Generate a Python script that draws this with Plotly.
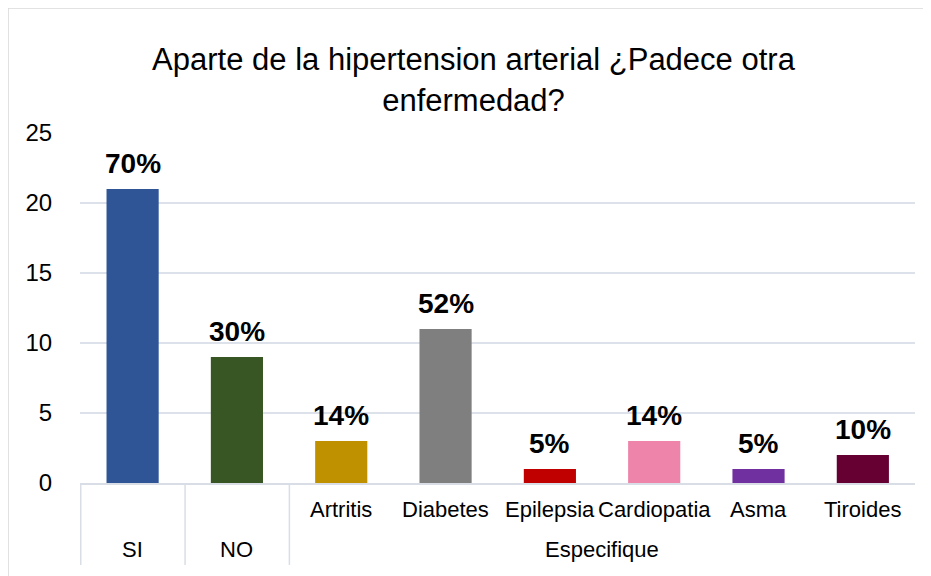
import plotly.graph_objects as go

grupos = ["SI", "NO", "Especifique", "Especifique", "Especifique", "Especifique", "Especifique", "Especifique"]
categorias = ["SI", "NO", "Artritis", "Diabetes", "Epilepsia", "Cardiopatia", "Asma", "Tiroides"]
valores = [21, 9, 3, 11, 1, 3, 1, 2]
etiquetas = ["70%", "30%", "14%", "52%", "5%", "14%", "5%", "10%"]
colores = ["#2F5597", "#375623", "#BF9000", "#7F7F7F", "#C00000", "#EE84AA", "#7030A0", "#660033"]

FUENTE = "Liberation Sans, Arial, sans-serif"
LINEA = "#D9DDE5"

fig = go.Figure(
    go.Bar(
        x=categorias,
        y=valores,
        marker=dict(color=colores, line=dict(width=0)),
        hovertext=etiquetas,
    )
)

# etiquetas de porcentaje sobre cada barra
for cat, val, txt in zip(categorias, valores, etiquetas):
    fig.add_annotation(
        x=cat, y=val, text=f"<b>{txt}</b>", xref="x", yref="y",
        showarrow=False, yanchor="bottom", yshift=8,
        font=dict(size=28, color="#000000", family=FUENTE),
    )

# etiquetas del eje x en dos niveles (categoria arriba, grupo abajo)
anotaciones = []
for cat, grp in zip(categorias, grupos):
    if cat != grp:
        anotaciones.append(dict(x=cat, y=-0.077, text=cat))
vistos = []
for grp in grupos:
    if grp not in vistos:
        vistos.append(grp)
for grp in vistos:
    idx = [i for i, g in enumerate(grupos) if g == grp]
    anotaciones.append(dict(x=sum(idx) / len(idx), y=-0.191, text=grp))
for a in anotaciones:
    fig.add_annotation(
        x=a["x"], y=a["y"], text=a["text"], xref="x", yref="paper",
        showarrow=False, yanchor="middle", xanchor="center",
        font=dict(size=22, color="#000000", family=FUENTE),
    )

# divisores entre grupos
limites = [-0.5] + [i - 0.5 for i in range(1, len(grupos)) if grupos[i] != grupos[i - 1]]
for xl in limites:
    fig.add_shape(
        type="line", xref="x", yref="paper", x0=xl + 0.003, x1=xl + 0.003, y0=0, y1=-0.234,
        line=dict(color=LINEA, width=1.5),
    )

fig.update_layout(
    width=931,
    height=576,
    paper_bgcolor="white",
    plot_bgcolor="white",
    font=dict(family=FUENTE, color="#000000"),
    title=dict(
        text="Aparte de la hipertension arterial ¿Padece otra<br>enfermedad?",
        x=0.5,
        xanchor="center",
        y=0.892,
        yanchor="middle",
        font=dict(size=31, color="#000000"),
    ),
    bargap=0.5,
    showlegend=False,
    margin=dict(l=72, r=24, t=125, b=101),
)
fig.update_xaxes(
    type="category",
    showticklabels=False,
    showline=True,
    linecolor=LINEA,
    linewidth=1.5,
    showgrid=False,
)
fig.update_yaxes(
    range=[0, 25],
    dtick=5,
    gridcolor="#DDE1EA",
    gridwidth=1.5,
    zeroline=False,
    showline=False,
    tickfont=dict(size=24, color="#000000"),
    ticks="outside",
    ticklen=0,
    ticklabelstandoff=22,
)
fig.add_shape(
    type="rect", xref="paper", yref="paper",
    x0=-0.0862, x1=1.2, y0=-0.5, y1=1.357,
    line=dict(color="#D9D9D9", width=1.5),
)

fig.write_html("out.html")
